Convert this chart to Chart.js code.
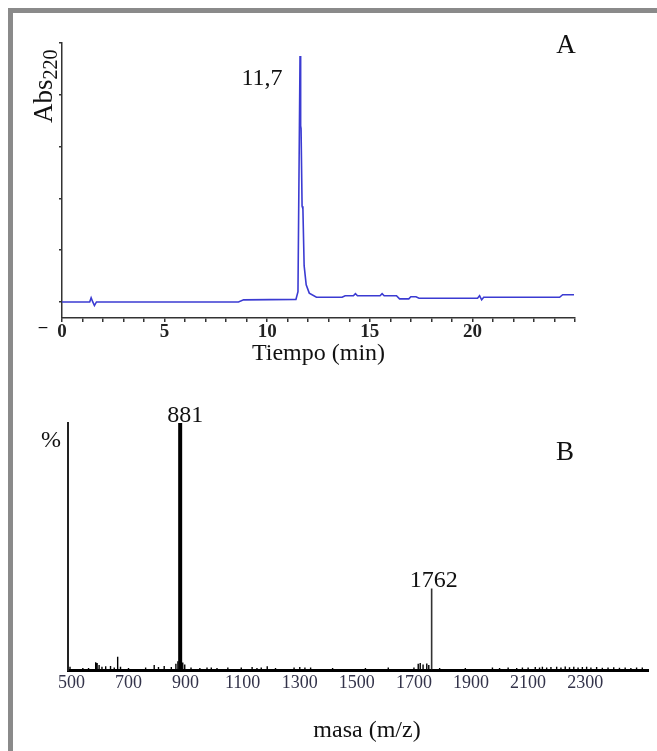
<!DOCTYPE html>
<html>
<head>
<meta charset="utf-8">
<script src="https://cdn.jsdelivr.net/npm/chart.js@4.4.0/dist/chart.umd.min.js"></script>
<style>
  body { margin: 0; background: #fff; overflow: hidden; }
  #frame { position: absolute; left: 8px; top: 8px; width: 720px; height: 820px; border: 5px solid #8a8a8a; box-sizing: border-box; }
  .wrap { position: absolute; left: 0; width: 657px; }
  #wrapA { top: 0; height: 380px; }
  #wrapB { top: 380px; height: 371px; }
</style>
</head>
<body>
<div id="frame"></div>
<div class="wrap" id="wrapA"><canvas id="chartA" width="657" height="380"></canvas></div>
<div class="wrap" id="wrapB"><canvas id="chartB" width="657" height="371"></canvas></div>
<script>
// Panel A - chromatogram (Abs 220 nm vs time)
const timeMin = [0, 1.35, 1.42, 1.5, 1.58, 1.68, 8.6, 8.85, 11.4, 11.5,
  11.6, 11.63, 11.65, 11.7, 11.74, 11.8, 11.9, 12.05, 12.4, 13.65, 13.8,
  14.2, 14.3, 14.4, 15.5, 15.6, 15.7, 16.3, 16.45, 16.9, 17.0,
  17.25, 17.4, 20.25, 20.35, 20.45, 20.55, 24.25, 24.4, 24.95];
const absorbance = [0, 0, 0.08, 0, -0.07, 0, 0, 0.04, 0.05, 0.2,
  4.75, 3.4, 3.35, 1.85, 1.8, 0.7, 0.33, 0.17, 0.09, 0.09, 0.12,
  0.12, 0.16, 0.12, 0.12, 0.16, 0.12, 0.12, 0.06, 0.06, 0.1,
  0.1, 0.07, 0.07, 0.12, 0.04, 0.09, 0.09, 0.14, 0.14];
const timeLabelStep = 5;
const peakLabelA = '11,7';

// Panel B - mass spectrum
const massTicks = [500, 700, 900, 1100, 1300, 1500, 1700, 1900, 2100, 2300];
const mainPeakMass = [881];
const mainPeakInt = [100];
const dimerPeakMass = [1762];
const dimerPeakInt = [33];
const noiseMass = [495, 540, 560, 585, 590, 597, 607, 620, 637, 650,
  662, 672, 700, 760, 790, 805, 825, 850, 866, 873,
  890, 897, 919, 950, 975, 990, 1010, 1048, 1095, 1133,
  1150, 1165, 1186, 1215, 1280, 1300, 1318, 1338, 1415, 1530,
  1610, 1700, 1715, 1722, 1732, 1745, 1752, 1790, 1880, 1975,
  2000, 2030, 2060, 2080, 2100, 2125, 2140, 2150, 2165, 2180,
  2200, 2215, 2230, 2245, 2260, 2275, 2290, 2305, 2320, 2340,
  2360, 2380, 2400, 2420, 2440, 2460, 2480, 2500];
const noiseInt = [1.3, 0.8, 0.8, 3.1, 2.8, 2.0, 1.3, 1.5, 1.6, 1.0,
  5.4, 1.3, 0.8, 1.0, 2.0, 1.2, 1.6, 1.2, 2.5, 3.5,
  3.0, 2.2, 1.0, 0.8, 1.0, 1.0, 0.8, 1.0, 1.0, 1.2,
  0.8, 1.0, 1.5, 0.8, 1.0, 1.2, 1.0, 1.0, 0.8, 0.8,
  1.0, 1.0, 2.5, 2.8, 2.2, 2.6, 2.0, 0.8, 0.8, 1.0,
  0.8, 1.0, 0.8, 1.0, 1.0, 1.2, 1.0, 1.3, 1.0, 1.2,
  1.3, 1.0, 1.4, 1.1, 1.3, 1.0, 1.2, 1.3, 1.0, 1.2,
  0.9, 1.0, 1.1, 0.9, 1.0, 0.8, 1.0, 1.0];

const serif = '"Liberation Serif", "Times New Roman", serif';

// stick spectrum: each peak goes up from baseline and back down
function sticks(masses, ints) {
  const pts = [];
  masses.forEach((m, i) => {
    pts.push({x: m, y: 0}, {x: m, y: ints[i]}, {x: m, y: 0});
  });
  return pts;
}

const textA = {
  id: 'textA',
  afterDraw(chart) {
    const ctx = chart.ctx;
    const xs = chart.scales.x, ys = chart.scales.y;
    ctx.save();
    ctx.fillStyle = '#111';

    // rotated y title with subscript
    ctx.save();
    ctx.translate(52, 123);
    ctx.rotate(-Math.PI / 2);
    ctx.textAlign = 'left';
    ctx.textBaseline = 'alphabetic';
    ctx.font = '27px ' + serif;
    ctx.fillText('Abs', 0, 0);
    const w = ctx.measureText('Abs').width;
    ctx.font = '20px ' + serif;
    ctx.fillText('220', w, 5);
    ctx.restore();

    ctx.textAlign = 'center';
    ctx.textBaseline = 'alphabetic';
    ctx.font = '27px ' + serif;
    ctx.fillText('A', 566, 53);

    ctx.font = 'bold 17px ' + serif;
    ctx.fillText('\u2013', 43, 332);

    // retention time label beside the main peak
    let top = 0;
    absorbance.forEach((v, i) => { if (v > absorbance[top]) top = i; });
    const px = xs.getPixelForValue(timeMin[top]);
    const py = ys.getPixelForValue(absorbance[top]);
    ctx.font = '24px ' + serif;
    ctx.fillText(peakLabelA, px - 38, py + 29);
    ctx.restore();
  }
};

const textB = {
  id: 'textB',
  afterDraw(chart) {
    const ctx = chart.ctx;
    const xs = chart.scales.x, ys = chart.scales.y;
    ctx.save();
    ctx.fillStyle = '#111';
    ctx.textAlign = 'center';
    ctx.textBaseline = 'alphabetic';
    ctx.font = '24px ' + serif;
    ctx.fillText('%', 51, 67);
    ctx.font = '27px ' + serif;
    ctx.fillText('B', 565, 80);

    ctx.font = '24px ' + serif;
    ctx.fillText(String(mainPeakMass[0]), xs.getPixelForValue(mainPeakMass[0]) + 5, ys.getPixelForValue(mainPeakInt[0]) - 1);
    ctx.fillText(String(dimerPeakMass[0]), xs.getPixelForValue(dimerPeakMass[0]) + 2, ys.getPixelForValue(dimerPeakInt[0]) - 1);

    ctx.textBaseline = 'middle';
    ctx.fillText('masa (m/z)', 367, 351);
    ctx.restore();
  }
};

new Chart(document.getElementById('chartA'), {
  type: 'line',
  data: {
    datasets: [{
      data: timeMin.map((t, i) => ({x: t, y: absorbance[i]})),
      borderColor: '#3b3bd2',
      borderWidth: 1.6,
      pointRadius: 0,
      tension: 0
    }]
  },
  options: {
    responsive: false,
    animation: false,
    layout: { padding: { left: 62, top: 43, right: 82, bottom: 2 } },
    plugins: { legend: { display: false }, tooltip: { enabled: false } },
    scales: {
      x: {
        type: 'linear',
        min: 0,
        max: 25,
        afterFit: s => { s.height = 60; },
        ticks: {
          stepSize: 1,
          padding: -1,
          maxRotation: 0,
          autoSkip: false,
          color: '#222',
          font: { family: serif, size: 19, weight: 'bold' },
          callback: v => (v % timeLabelStep === 0 && v < 25) ? String(v) : ''
        },
        grid: { drawOnChartArea: false, drawTicks: true, tickLength: 4, color: '#333', lineWidth: 1.5 },
        border: { display: true, color: '#333', width: 1.5 },
        title: {
          display: true,
          text: 'Tiempo (min)',
          color: '#111',
          font: { family: serif, size: 24 },
          padding: { top: 0, bottom: 10 }
        }
      },
      y: {
        min: -0.31,
        max: 5,
        afterFit: s => { s.width = 0; },
        ticks: { display: false, stepSize: 1, includeBounds: false },
        grid: { drawOnChartArea: false, drawTicks: true, tickLength: 3, color: '#333', lineWidth: 1.5 },
        border: { display: true, color: '#333', width: 1.5 }
      }
    }
  },
  plugins: [textA]
});

new Chart(document.getElementById('chartB'), {
  type: 'line',
  data: {
    datasets: [{
      data: sticks(noiseMass, noiseInt),
      borderColor: '#000',
      borderWidth: 1.4,
      borderJoinStyle: 'bevel',
      pointRadius: 0,
      tension: 0
    }, {
      data: sticks(dimerPeakMass, dimerPeakInt),
      borderColor: '#333',
      borderWidth: 1.6,
      borderJoinStyle: 'bevel',
      pointRadius: 0,
      tension: 0
    }, {
      data: sticks(mainPeakMass, mainPeakInt),
      borderColor: '#000',
      borderWidth: 4,
      borderJoinStyle: 'bevel',
      pointRadius: 0,
      tension: 0
    }]
  },
  options: {
    responsive: false,
    animation: false,
    layout: { padding: { left: 68, top: 43, right: 9, bottom: 2 } },
    plugins: { legend: { display: false }, tooltip: { enabled: false } },
    scales: {
      x: {
        type: 'linear',
        min: 488,
        max: 2520,
        afterFit: s => { s.height = 79; },
        afterBuildTicks: s => { s.ticks = massTicks.map(v => ({value: v})); },
        ticks: {
          padding: 2,
          maxRotation: 0,
          autoSkip: false,
          color: '#33334a',
          font: { family: serif, size: 18 },
          callback: v => String(v)
        },
        grid: { drawOnChartArea: false, drawTicks: false },
        border: { display: true, color: '#000', width: 3 }
      },
      y: {
        min: 0,
        max: 100,
        afterFit: s => { s.width = 0; },
        ticks: { display: false },
        grid: { display: false, drawTicks: false },
        border: { display: true, color: '#222', width: 2 }
      }
    }
  },
  plugins: [textB]
});
</script>
</body>
</html>
